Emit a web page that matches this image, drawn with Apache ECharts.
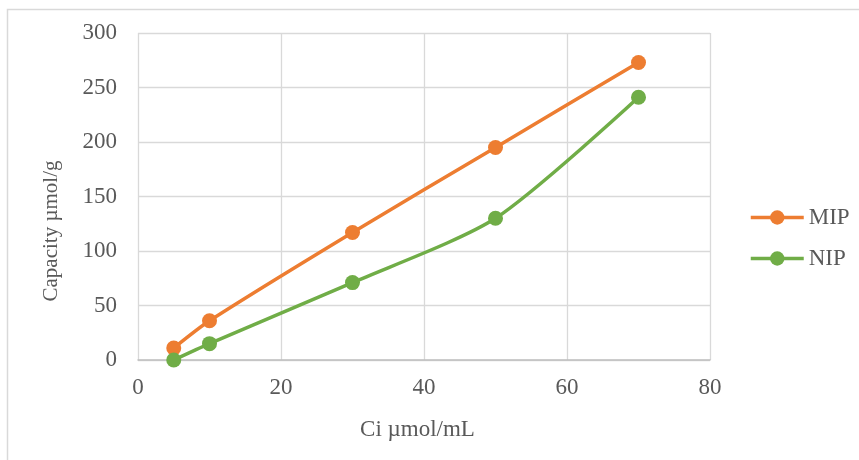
<!DOCTYPE html>
<html>
<head>
<meta charset="utf-8">
<script src="https://cdn.jsdelivr.net/npm/echarts@6/dist/echarts.min.js"></script>
<style>
  html, body { margin: 0; padding: 0; background: #fff; }
  #chart { width: 859px; height: 460px; }
</style>
</head>
<body>
<div id="chart"></div>
<script>
// Initial concentration (µmol/mL) and adsorbed capacity (µmol/g)
const ciValues = [5, 10, 30, 50, 70];
const mipCapacity = [11, 36, 117, 195, 273];
const nipCapacity = [0, 15, 71, 130, 241];
const seriesNames = ['MIP', 'NIP'];
const seriesColors = ['#ED7D31', '#70AD47'];

const font = 'Liberation Serif, Times New Roman, serif';
const textColor = '#595959';

function pairs(xs, ys) {
  return xs.map((x, i) => [x, ys[i]]);
}

function lineSeries(name, color, values) {
  return {
    name: name,
    type: 'line',
    data: pairs(ciValues, values),
    smooth: 0.25,
    symbol: 'circle',
    symbolSize: 15,
    lineStyle: { color: color, width: 3.5 },
    itemStyle: { color: color },
    z: 3
  };
}

const chart = echarts.init(document.getElementById('chart'), null, { renderer: 'canvas' });
chart.setOption({
  animation: false,
  backgroundColor: '#ffffff',
  textStyle: { fontFamily: font },
  grid: { left: 138, top: 33, width: 572, height: 327, containLabel: false },
  graphic: [{
    type: 'polyline',
    shape: { points: [[7.5, 461], [7.5, 9.5], [860, 9.5]] },
    style: { stroke: '#d9d9d9', lineWidth: 1.5, fill: null },
    silent: true
  }],
  legend: {
    orient: 'vertical',
    left: 744,
    top: 201,
    itemWidth: 53,
    itemHeight: 18,
    itemGap: 18,
    data: seriesNames,
    lineStyle: { width: 3.5 },
    textStyle: { fontFamily: font, fontSize: 23, color: textColor }
  },
  xAxis: {
    type: 'value',
    min: 0,
    max: 80,
    interval: 20,
    name: 'Ci µmol/mL',
    nameLocation: 'middle',
    nameGap: 58,
    nameTextStyle: { fontFamily: font, fontSize: 23, color: textColor, padding: [0, 13, 0, 0] },
    axisLine: { show: true, lineStyle: { color: '#bfbfbf', width: 1.5 } },
    axisTick: { show: false },
    axisLabel: { fontFamily: font, fontSize: 23, color: textColor, margin: 16 },
    splitLine: { show: true, lineStyle: { color: '#d9d9d9', width: 1.3 } }
  },
  yAxis: {
    type: 'value',
    min: 0,
    max: 300,
    interval: 50,
    name: 'Capacity µmol/g',
    nameLocation: 'middle',
    nameGap: 76,
    nameTextStyle: { fontFamily: font, fontSize: 21, color: textColor, padding: [0, 69, 0, 0] },
    axisLine: { show: false },
    axisTick: { show: false },
    axisLabel: { fontFamily: font, fontSize: 23, color: textColor, margin: 21 },
    splitLine: { show: true, lineStyle: { color: '#d9d9d9', width: 1.3 } }
  },
  series: [
    lineSeries(seriesNames[0], seriesColors[0], mipCapacity),
    lineSeries(seriesNames[1], seriesColors[1], nipCapacity)
  ]
});
</script>
</body>
</html>
